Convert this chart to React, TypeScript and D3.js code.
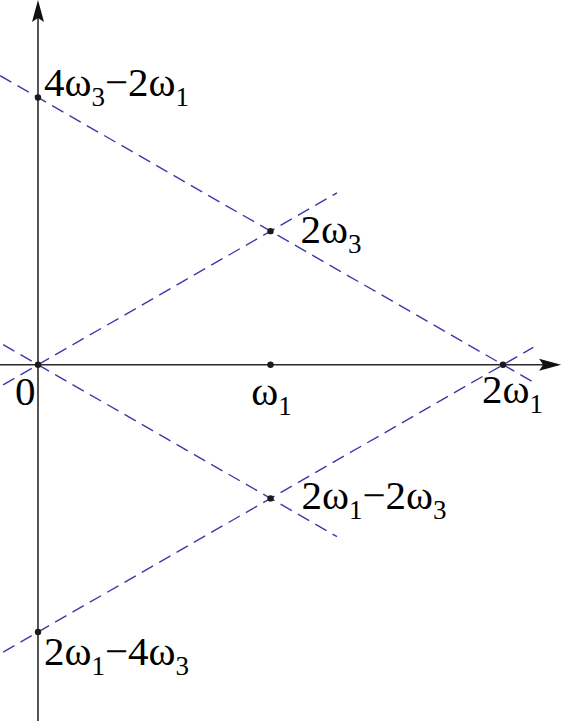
import React, { useEffect, useRef } from 'react';
import * as d3 from 'd3';

// chart size
const W = 562;
const H = 721;

// marked points on the frequency plane (x in units of ω1, y in arbitrary units)
const pointX = [0, 1, 0, 1, 2, 1, 0];
const pointY = [0, 1, 2, 0, 0, -1, -2];
// labels use "_" to mark a one-char subscript
const pointLabels = ['0', '2ω_3', '4ω_3−2ω_1', 'ω_1', '2ω_1', '2ω_1−2ω_3', '2ω_1−4ω_3'];

// dashed lines: two points they pass through and how far they run in x
const lineFrom: [number, number][] = [[0, 2], [0, 0], [0, 0], [0, -2]];
const lineTo: [number, number][] = [[2, 0], [1, 1], [1, -1], [2, 0]];
const lineXStart = [-0.163, -0.15, -0.15, -0.15];
const lineXEnd = [2.125, 1.286, 1.286, 2.13];

// axis extents in data units
const xAxisExtent = [-0.164, 2.25];
const yAxisExtent = [-2.67, 2.73];

// label offsets (px) from their point
const labelLayout: Record<string, { dx: number; dy: number; anchor: string }> = {
  '0': { dx: -23, dy: 40, anchor: 'start' },
  '2ω_3': { dx: 30, dy: 12, anchor: 'start' },
  '4ω_3−2ω_1': { dx: 6, dy: -2, anchor: 'start' },
  'ω_1': { dx: 1, dy: 40, anchor: 'middle' },
  '2ω_1': { dx: -21, dy: 38, anchor: 'start' },
  '2ω_1−2ω_3': { dx: 31, dy: 11, anchor: 'start' },
  '2ω_1−4ω_3': { dx: 6, dy: 33, anchor: 'start' },
};

const App: React.FC = () => {
  const svgRef = useRef<SVGSVGElement>(null);

  useEffect(() => {
    if (!svgRef.current) return;
    const svg = d3.select(svgRef.current);
    svg.selectAll('*').remove();

    const x = d3.scaleLinear().domain([0, 2]).range([38, 503]);
    const y = d3.scaleLinear().domain([-2, 2]).range([632, 97.5]);

    const axisColor = '#2a2a2a';
    const dashColor = '#3a3aaa';

    // dashed lines
    const line = d3.line<[number, number]>().x(d => x(d[0])).y(d => y(d[1]));
    lineFrom.forEach((p, i) => {
      const q = lineTo[i];
      const slope = (q[1] - p[1]) / (q[0] - p[0]);
      const at = (xv: number): [number, number] => [xv, p[1] + slope * (xv - p[0])];
      svg.append('path')
        .attr('d', line([at(lineXStart[i]), at(lineXEnd[i])]))
        .attr('fill', 'none')
        .attr('stroke', dashColor)
        .attr('stroke-width', 1.4)
        .attr('stroke-dasharray', '13,7');
    });

    // axes
    svg.append('line')
      .attr('x1', x(xAxisExtent[0])).attr('x2', x(xAxisExtent[1]) - 8)
      .attr('y1', y(0)).attr('y2', y(0))
      .attr('stroke', axisColor).attr('stroke-width', 1.6);
    svg.append('line')
      .attr('x1', x(0)).attr('x2', x(0))
      .attr('y1', y(yAxisExtent[0])).attr('y2', y(yAxisExtent[1]) + 8)
      .attr('stroke', axisColor).attr('stroke-width', 1.6);

    // arrow heads
    const arrow = 'M0,0 L-22,-6 L-18,0 L-22,6 Z';
    svg.append('path')
      .attr('d', arrow)
      .attr('transform', `translate(${x(xAxisExtent[1])},${y(0)})`)
      .attr('fill', '#111');
    svg.append('path')
      .attr('d', arrow)
      .attr('transform', `translate(${x(0)},${y(yAxisExtent[1])}) rotate(-90)`)
      .attr('fill', '#111');

    // points
    pointX.forEach((px, i) => {
      svg.append('circle')
        .attr('cx', x(px))
        .attr('cy', y(pointY[i]))
        .attr('r', 3.2)
        .attr('fill', '#1a1a1a');
    });

    // labels
    pointLabels.forEach((lab, i) => {
      const lay = labelLayout[lab];
      const t = svg.append('text')
        .attr('x', x(pointX[i]) + lay.dx)
        .attr('y', y(pointY[i]) + lay.dy)
        .attr('text-anchor', lay.anchor)
        .style('font-family', "'Liberation Serif', 'Times New Roman', serif")
        .style('font-size', '41px')
        .attr('fill', '#000');
      const parts = lab.split(/(_.)/).filter(s => s.length > 0);
      let shifted = false;
      parts.forEach(part => {
        if (part.startsWith('_')) {
          t.append('tspan').style('font-size', '27px').attr('dy', 10).text(part.slice(1));
          shifted = true;
        } else {
          const ts = t.append('tspan').text(part);
          if (shifted) { ts.attr('dy', -10); shifted = false; }
        }
      });
    });
  }, []);

  return (
    <svg
      ref={svgRef}
      width={W}
      height={H}
      style={{ position: 'absolute', left: 0, top: 0, background: '#fff' }}
    />
  );
};

export default App;
